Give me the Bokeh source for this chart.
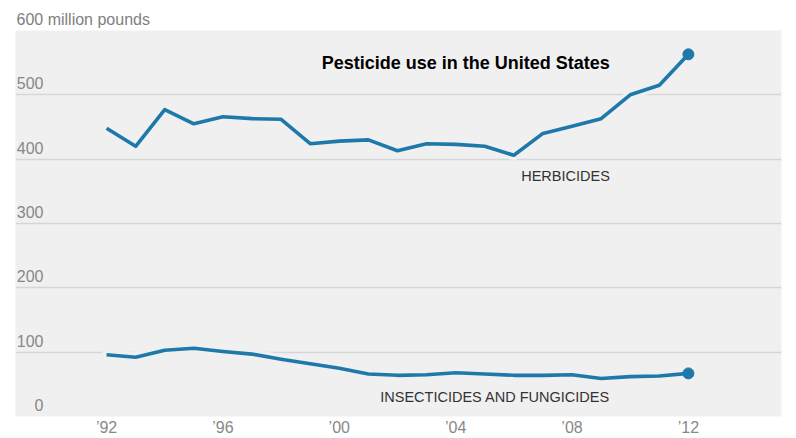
from bokeh.plotting import figure
from bokeh.models import (LinearAxis, Range1d, FixedTicker, Grid, Label,
                          ColumnDataSource)
from bokeh.embed import file_html
from bokeh.resources import INLINE

# ---- data ----
years = list(range(1992, 2013))
herbicides = [448, 420, 477, 455, 466, 463, 462, 424, 428, 430, 413,
              424, 423, 420, 406, 440, 451, 463, 500, 515, 563]
insecticides_fungicides = [96, 92, 103, 106, 101, 97, 89, 82, 75, 66, 64,
                           65, 68, 66, 64, 64, 65, 59, 62, 63, 67]
y_ticks = [0, 100, 200, 300, 400, 500]
grid_ticks = [100, 200, 300, 400, 500]
x_ticks = [1992, 1996, 2000, 2004, 2008, 2012]
x_tick_labels = ["’92", "’96", "’00", "’04", "’08", "’12"]

FONT = "Liberation Sans"
BLUE = "#1e79aa"
BG = "#f0f0f0"

src = ColumnDataSource(dict(year=years, herb=herbicides, ins=insecticides_fungicides))
last = ColumnDataSource(dict(year=[years[-1], years[-1]],
                             val=[herbicides[-1], insecticides_fungicides[-1]]))

p = figure(width=796, height=438, x_range=Range1d(1988.87, 2015.2),
           y_range=Range1d(0, 600), output_backend="svg",
           toolbar_location=None, y_axis_location=None,
           min_border_left=15, min_border_right=15, min_border_top=30,
           min_border_bottom=21)
p.background_fill_color = BG
p.border_fill_color = "white"
p.outline_line_color = None
p.grid.visible = False

# title used as unit label
p.title.text = "600 million pounds"
p.title.text_font = FONT
p.title.text_font_size = "16px"
p.title.text_font_style = "normal"
p.title.text_color = "#808080"
p.title.align = "left"
p.title.offset = 1
p.title.standoff = 6

# grid
g = Grid(dimension=1, ticker=FixedTicker(ticks=grid_ticks),
         grid_line_color="#d6d6d6", grid_line_width=1.3)
p.add_layout(g)

# y axis with labels inside the plot, above gridlines
p.extra_y_ranges = {"lab": Range1d(-18, 582)}
yax = LinearAxis(y_range_name="lab", ticker=FixedTicker(ticks=y_ticks),
                 axis_line_color=None, major_tick_line_color=None,
                 major_tick_out=0, major_tick_in=0,
                 minor_tick_line_color=None, major_label_standoff=-28,
                 major_label_text_font=FONT, major_label_text_font_size="16px",
                 major_label_text_color="#888888")
p.add_layout(yax, "left")

# x axis
p.xaxis.ticker = FixedTicker(ticks=x_ticks)
p.xaxis.major_label_overrides = dict(zip(x_ticks, x_tick_labels))
p.xaxis.axis_line_color = None
p.xaxis.major_tick_line_color = None
p.xaxis.major_tick_out = 0
p.xaxis.major_tick_in = 0
p.xaxis.minor_tick_line_color = None
p.xaxis.major_label_standoff = 2
p.xaxis.major_label_text_font = FONT
p.xaxis.major_label_text_font_size = "16px"
p.xaxis.major_label_text_color = "#888888"

# halos + lines
for col in ["herb", "ins"]:
    p.line("year", col, source=src, line_color=BG, line_width=10,
           line_cap="round", line_join="round")
for col in ["herb", "ins"]:
    p.line("year", col, source=src, line_color=BLUE, line_width=3.6,
           line_join="round")
p.scatter("year", "val", source=last, size=11, color=BLUE)

# annotations
p.add_layout(Label(x=2009.3, y=550, text="Pesticide use in the United States",
                   text_align="right", text_baseline="middle", text_font=FONT,
                   text_font_style="bold", text_font_size="18px",
                   text_color="#000000"))
p.add_layout(Label(x=2009.3, y=374, text="HERBICIDES",
                   text_align="right", text_baseline="middle", text_font=FONT,
                   text_font_size="14.5px", text_color="#333333"))
p.add_layout(Label(x=2009.3, y=30, text="INSECTICIDES AND FUNGICIDES",
                   text_align="right", text_baseline="middle", text_font=FONT,
                   text_font_size="14.5px", text_color="#333333"))

open("out.html", "w").write(file_html(p, INLINE))
